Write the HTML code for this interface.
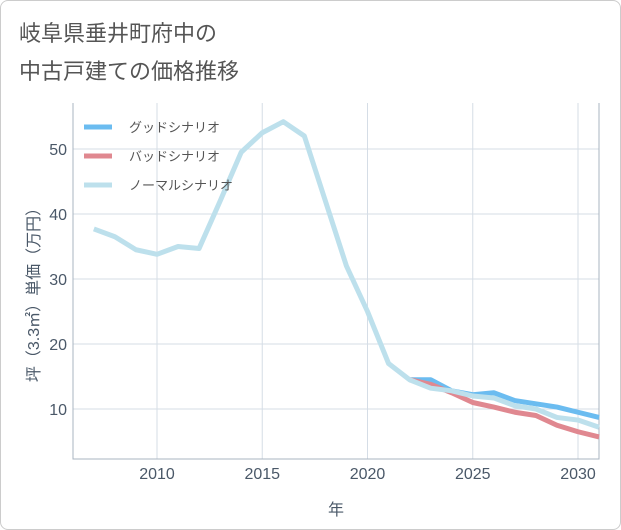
<!DOCTYPE html>
<html><head><meta charset="utf-8"><style>
body{margin:0;background:#fff;font-family:"Liberation Sans","Noto Sans CJK JP",sans-serif}
#wrap{position:relative;width:619px;height:528px;border:1px solid #ccc;border-radius:8px;overflow:hidden}
</style></head><body>
<div id="wrap">
<svg id="c" width="621" height="530">
<text x="18" y="40" font-size="22" fill="#555">岐阜県垂井町府中の</text>
<text x="18" y="78" font-size="22" fill="#555">中古戸建ての価格推移</text>
<g id="grid"></g><g id="lines"></g>
<text x="335" y="514" font-size="16" fill="#4a5868" text-anchor="middle">年</text>
<text transform="translate(38,290) rotate(-90)" font-size="16" fill="#4a5868" text-anchor="middle">坪（3.3㎡）単価（万円）</text>
</svg></div>
<script>
const years=[2007,2008,2009,2010,2011,2012,2013,2014,2015,2016,2017,2018,2019,2020,2021,2022,2023,2024,2025,2026,2027,2028,2029,2030,2031];
const normal=[37.7,36.5,34.5,33.8,35,34.7,42,49.5,52.5,54.2,52,42,32,25,17,14.5,13.2,12.8,12,11.7,10.5,10,8.7,8.3,7.2];
const goodYears=[2022,2023,2024,2025,2026,2027,2028,2029,2030,2031];
const good=[14.5,14.5,12.8,12.2,12.5,11.3,10.8,10.3,9.5,8.7];
const bad=[14.5,13.8,12.5,11,10.3,9.5,9,7.5,6.5,5.7];
const xTicks=[2010,2015,2020,2025,2030];
const yTicks=[10,20,30,40,50];
const X=y=>156+(y-2010)*21.05, Y=v=>473-v*6.5;
const ns="http://www.w3.org/2000/svg",g=document.getElementById('grid'),L=document.getElementById('lines');
function mk(p,t,a){const e=document.createElementNS(ns,t);for(const k in a)e.setAttribute(k,a[k]);p.appendChild(e);return e;}
xTicks.forEach(t=>{const l=mk(g,'line',{x1:X(t),x2:X(t),y1:102,y2:458,stroke:'#d5dde6'});


const s=mk(g,'text',{x:X(t),y:478,'font-size':16,fill:'#4a5868','text-anchor':'middle'});s.textContent=t;

});
yTicks.forEach(t=>{const l=mk(g,'line',{x1:72,x2:598,y1:Y(t),y2:Y(t),stroke:'#d5dde6'});


const s=mk(g,'text',{x:66,y:Y(t)+6,'font-size':16,fill:'#4a5868','text-anchor':'end'});s.textContent=t;

});
const ax=mk(g,'path',{d:'M72 102V458H598V102',fill:'none',stroke:'#aab4c0'});


function line(xs,vs,c,n){const p=mk(L,'polyline',{points:xs.map((x,i)=>X(x)+','+Y(vs[i])).join(' '),fill:'none',stroke:c,'stroke-width':5,'stroke-linejoin':'round'});

}
line(goodYears,good,'#6bbcf0','good-scenario-line');
line(goodYears,bad,'#e08890','bad-scenario-line');
line(years,normal,'#bde0ec','normal-scenario-line');
[['グッドシナリオ','#6bbcf0'],['バッドシナリオ','#e08890'],['ノーマルシナリオ','#bde0ec']].forEach((d,i)=>{
const y=126+i*29;const l=mk(L,'line',{x1:83,x2:111,y1:y,y2:y,stroke:d[1],'stroke-width':5});


const t=mk(L,'text',{x:128,y:y+5,'font-size':13,fill:'#555'});t.textContent=d[0];

});
</script></body></html>
